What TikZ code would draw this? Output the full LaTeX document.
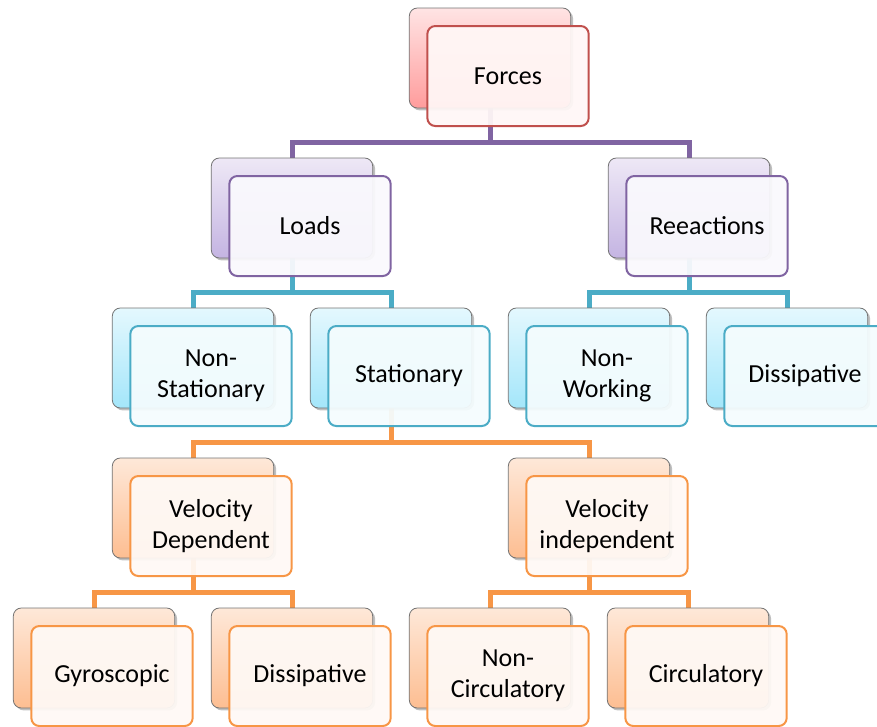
\documentclass[tikz,border=0pt]{standalone}
\usepackage{fontspec}
\setmainfont{Carlito}
\usetikzlibrary{shadows,backgrounds}

\definecolor{redTop}{HTML}{FFE4E4}
\definecolor{redBot}{HTML}{FF9C9C}
\definecolor{redLine}{HTML}{C0504D}
\definecolor{redPale}{HTML}{FFF7F6}
\definecolor{purpleTop}{HTML}{EEE8F6}
\definecolor{purpleBot}{HTML}{C4B4E2}
\definecolor{purpleLine}{HTML}{8064A2}
\definecolor{purplePale}{HTML}{FAF9FD}
\definecolor{tealTop}{HTML}{E4F8FE}
\definecolor{tealBot}{HTML}{A4E6FA}
\definecolor{tealLine}{HTML}{4BACC6}
\definecolor{tealPale}{HTML}{F4FCFE}
\definecolor{orangeTop}{HTML}{FEE8D8}
\definecolor{orangeBot}{HTML}{FDBE92}
\definecolor{orangeLine}{HTML}{F79646}
\definecolor{orangePale}{HTML}{FFF9F5}

\tikzstyle{box}=[rectangle, rounded corners=6pt, minimum width=121pt, minimum height=75pt, inner sep=2pt, align=center, font=\fontsize{19.5}{23.5}\selectfont]
\tikzstyle{back}=[box, draw=black!55, line width=0.6pt, drop shadow={shadow xshift=1.8pt, shadow yshift=-1.8pt, opacity=0.5}]
\tikzstyle{front}=[box, line width=1.5pt, fill opacity=0.94, text opacity=1]
\tikzstyle{red back}=[back, top color=redTop, bottom color=redBot]
\tikzstyle{red front}=[front, draw=redLine, fill=redPale]
\tikzstyle{purple back}=[back, top color=purpleTop, bottom color=purpleBot]
\tikzstyle{purple front}=[front, draw=purpleLine, fill=purplePale]
\tikzstyle{teal back}=[back, top color=tealTop, bottom color=tealBot]
\tikzstyle{teal front}=[front, draw=tealLine, fill=tealPale]
\tikzstyle{orange back}=[back, top color=orangeTop, bottom color=orangeBot]
\tikzstyle{orange front}=[front, draw=orangeLine, fill=orangePale]
\tikzstyle{link}=[line width=3.75pt]

\begin{document}
\begin{tikzpicture}[x=0.75pt, y=-0.75pt]
				\useasboundingbox (0,0) rectangle (877,726);

				% Top level
				\node[red back] (forcesB) at (490, 58) {};
				\node[red front] (forces) at (508, 76) {Forces};

				% Second level
				\node[purple back] (loadsB) at (292, 208) {};
				\node[purple front] (loads) at (310, 226) {Loads};
				\node[purple back] (reactB) at (689, 208) {};
				\node[purple front] (react) at (707, 226) {Reeactions};

				% Third level
				\node[teal back] (nonstatB) at (193, 358) {};
				\node[teal front] (nonstat) at (211, 376) {Non-\\Stationary};
				\node[teal back] (statB) at (391, 358) {};
				\node[teal front] (stat) at (409, 376) {Stationary};
				\node[teal back] (nonworkB) at (589, 358) {};
				\node[teal front] (nonwork) at (607, 376) {Non-\\Working};
				\node[teal back] (dissAB) at (787, 358) {};
				\node[teal front] (dissA) at (805, 376) {Dissipative};

				% Fourth level
				\node[orange back] (veldepB) at (193, 508) {};
				\node[orange front] (veldep) at (211, 526) {Velocity\\Dependent};
				\node[orange back] (velindB) at (589, 508) {};
				\node[orange front] (velind) at (607, 526) {Velocity\\independent};

				% Bottom level
				\node[orange back] (gyroB) at (94, 658) {};
				\node[orange front] (gyro) at (112, 676) {Gyroscopic};
				\node[orange back] (dissBB) at (292, 658) {};
				\node[orange front] (dissB) at (310, 676) {Dissipative};
				\node[orange back] (noncircB) at (490, 658) {};
				\node[orange front] (noncirc) at (508, 676) {Non-\\Circulatory};
				\node[orange back] (circB) at (688, 658) {};
				\node[orange front] (circ) at (706, 676) {Circulatory};

				% Connectors
				\begin{pgfonlayer}{background}
				\foreach \c in {loadsB, reactB}{ \draw[link, purpleLine] (forcesB.south) -- ++(0,34) -| (\c.north); }
				\foreach \c in {nonstatB, statB}{ \draw[link, tealLine] (loadsB.south) -- ++(0,34) -| (\c.north); }
				\foreach \c in {nonworkB, dissAB}{ \draw[link, tealLine] (reactB.south) -- ++(0,34) -| (\c.north); }
				\foreach \c in {veldepB, velindB}{ \draw[link, orangeLine] (statB.south) -- ++(0,34) -| (\c.north); }
				\foreach \c in {gyroB, dissBB}{ \draw[link, orangeLine] (veldepB.south) -- ++(0,34) -| (\c.north); }
				\foreach \c in {noncircB, circB}{ \draw[link, orangeLine] (velindB.south) -- ++(0,34) -| (\c.north); }
				\end{pgfonlayer}
			\end{tikzpicture}
\end{document}
